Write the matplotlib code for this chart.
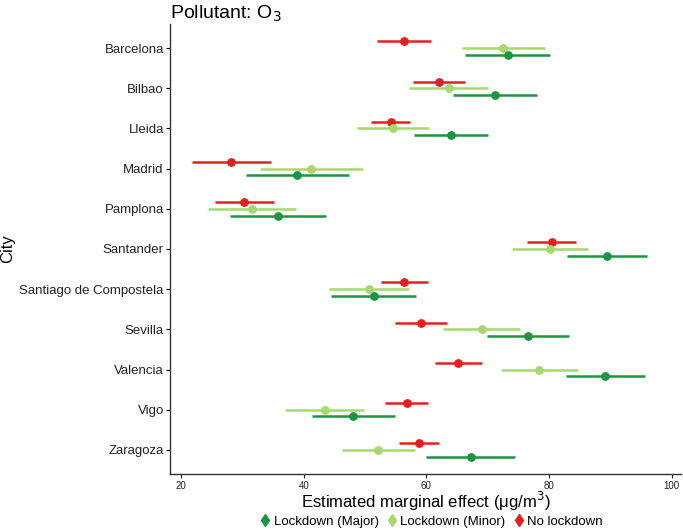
import numpy as np
import matplotlib
matplotlib.use('Agg')
import matplotlib.pyplot as plt
from matplotlib.lines import Line2D

plt.rcParams['font.family'] = ['Liberation Sans', 'DejaVu Sans']

# data
cities = ["Barcelona", "Bilbao", "Lleida", "Madrid", "Pamplona", "Santander",
          "Santiago de Compostela", "Sevilla", "Valencia", "Vigo", "Zaragoza"]

none_est = [56.4, 62.0, 54.2, 28.2, 30.3, 80.4, 56.4, 59.1, 65.2, 56.8, 58.8]
none_lo = [52.0, 57.8, 51.0, 21.8, 25.5, 76.4, 52.6, 54.8, 61.4, 53.2, 55.5]
none_hi = [60.8, 66.3, 57.3, 34.7, 35.2, 84.4, 60.2, 63.4, 69.0, 60.3, 62.0]

minor_est = [72.5, 63.6, 54.6, 41.2, 31.6, 80.2, 50.6, 69.0, 78.4, 43.5, 52.1]
minor_lo = [65.8, 57.2, 48.7, 32.8, 24.4, 73.9, 44.1, 62.7, 72.1, 37.0, 46.2]
minor_hi = [79.3, 70.0, 60.4, 49.6, 38.8, 86.4, 57.2, 75.3, 84.7, 49.9, 58.1]

major_est = [73.3, 71.1, 64.0, 38.9, 35.8, 89.5, 51.4, 76.5, 89.1, 48.1, 67.2]
major_lo = [66.3, 64.3, 57.9, 30.5, 28.0, 82.9, 44.5, 69.9, 82.7, 41.4, 59.9]
major_hi = [80.2, 78.0, 70.1, 47.4, 43.7, 95.9, 58.3, 83.2, 95.6, 54.8, 74.5]

groups = [
    ("No lockdown", none_est, none_lo, none_hi, "#e3211c", -0.167),
    ("Lockdown (Minor)", minor_est, minor_lo, minor_hi, "#a6d96a", 0.0),
    ("Lockdown (Major)", major_est, major_lo, major_hi, "#1a9641", 0.167),
]

fig = plt.figure(figsize=(6.83, 5.3), dpi=100)
ax = fig.add_axes([0.249, 0.1057, 0.748, 0.849])

ypos = np.arange(len(cities))
for name, est, lo, hi, col, off in groups:
    y = ypos + off
    ax.hlines(y, lo, hi, color=col, lw=1.8)
    ax.plot(est, y, 'o', color=col, ms=5.3, ls='none')

ax.set_yticks(ypos)
ax.set_yticklabels(cities, fontsize=9.5, color='#222222')
ax.set_ylim(10.6, -0.6)
ax.set_xlim(18.2, 101.5)
ax.set_xticks([20, 40, 60, 80, 100])
ax.tick_params(axis='x', labelsize=7, colors='#222222', length=3, pad=2)
ax.tick_params(axis='y', length=3, pad=1.5)
for s in ['top', 'right']:
    ax.spines[s].set_visible(False)
for s in ['left', 'bottom']:
    ax.spines[s].set_color('#333333')
    ax.spines[s].set_linewidth(1.0)

ax.set_xlabel("Estimated marginal effect (μg/m$^3$)", fontsize=12)
ax.xaxis.label.set_va('center')
ax.xaxis.set_label_coords(0.5, -0.062)
ax.set_ylabel("City", fontsize=12)
ax.yaxis.label.set_va('center')
ax.yaxis.set_label_coords(-0.317, 0.5)
ax.set_title("Pollutant: O$_3$", fontsize=14, loc='left', pad=4)

handles = [Line2D([], [], marker='d', color=g[4], ls='none', ms=6) for g in groups[::-1]]
labels = [g[0] for g in groups[::-1]]
fig.legend(handles, labels, loc='center', bbox_to_anchor=(430 / 683, 0.016), ncol=3,
           frameon=False, fontsize=9.5, handletextpad=0.05, columnspacing=0.4,
           handlelength=1.2, borderpad=0)

fig.savefig("out.png", dpi=100)
